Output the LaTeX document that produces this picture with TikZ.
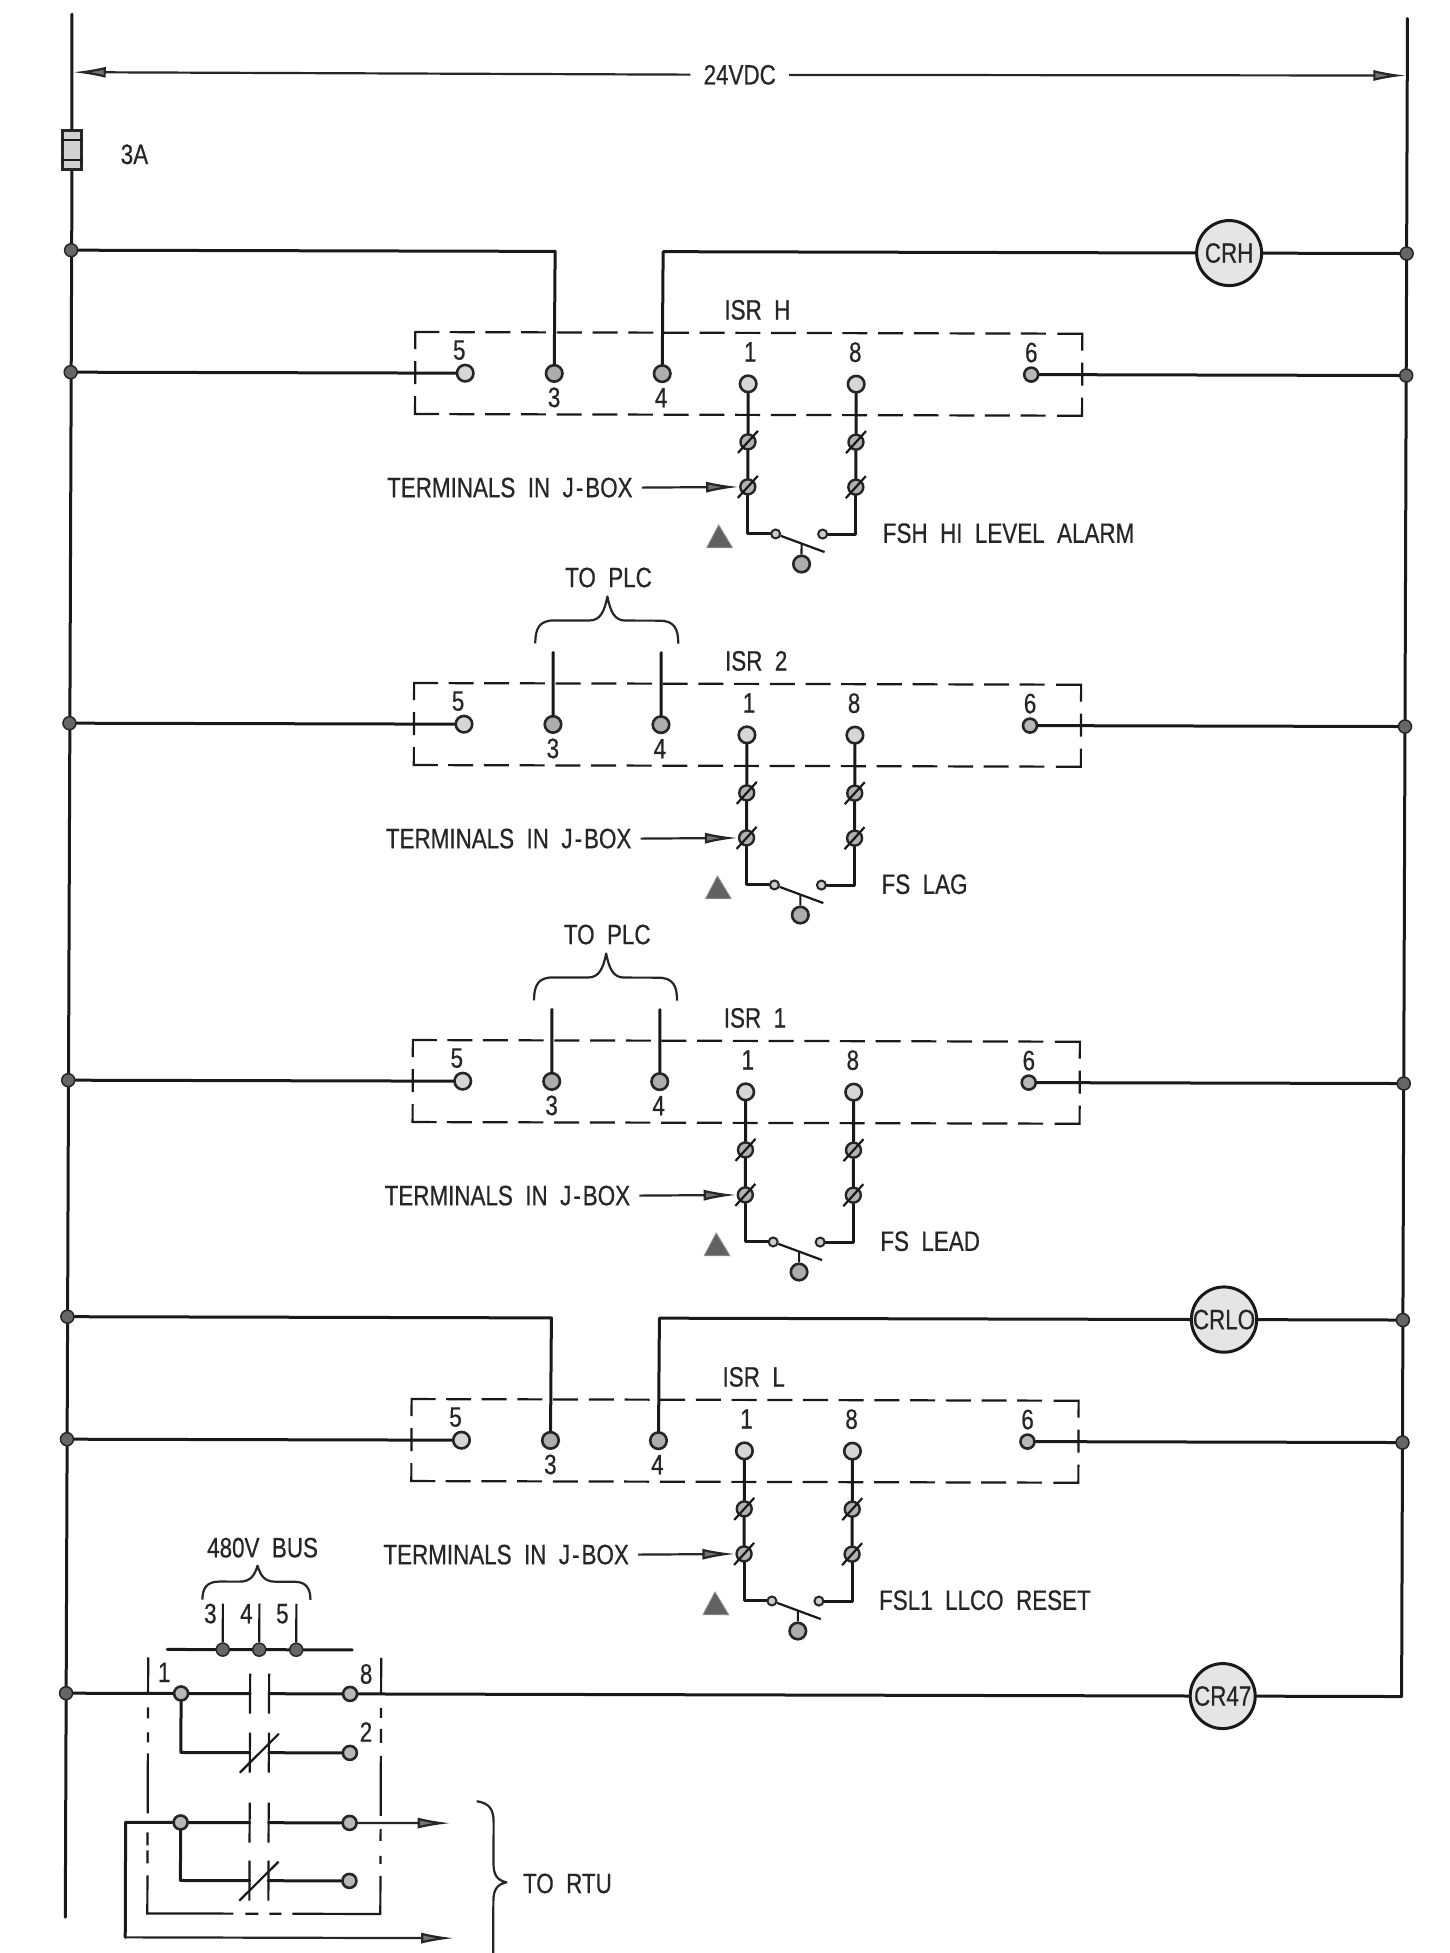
\documentclass[tikz,border=0pt]{standalone}
\usepackage{fontspec}
\setmainfont[FakeStretch=0.8,FakeBold=0.5]{Liberation Sans}
\usetikzlibrary{arrows.meta}
\tikzset{
  wire/.style={draw=black!90,line width=3pt,line cap=round,line join=round},
  thinw/.style={draw=black!90,line width=2.2pt,line cap=butt},
  dashbox/.style={draw=black!90,line width=2.2pt,dash pattern=on 25pt off 10.7pt},
  term/.style={circle,draw=black!85,fill=black!32,line width=2.6pt,inner sep=0pt,minimum size=16.5pt},
  termlight/.style={term,fill=black!16},
  smallterm/.style={circle,draw=black!85,fill=black!20,line width=2pt,inner sep=0pt,minimum size=9pt},
  midterm/.style={circle,draw=black!85,fill=black!28,line width=2.6pt,inner sep=0pt,minimum size=14pt},
  junc/.style={circle,draw=black!85,fill=black!60,line width=1.5pt,inner sep=0pt,minimum size=13pt},
  screw/.style={circle,draw=black!85,fill=black!30,line width=2.4pt,inner sep=0pt,minimum size=15pt},
  coil/.style={circle,draw=black!90,fill=black!10,line width=3pt,inner sep=0pt,minimum size=65pt},
  lab/.style={inner sep=0pt,text=black!85,font=\fontsize{28}{30}\selectfont},
  arroww/.style={draw=black!85,line width=2.2pt,-{Latex[length=33pt,width=11pt,fill=black!55]}},
  fusebox/.style={rectangle,draw=black!85,fill=black!18,line width=2.6pt,inner sep=0pt,minimum width=19pt,minimum height=39pt},
  marker/.style={draw=black!40,fill=black!62,line width=0.8pt,line join=round},
  curly/.style={draw=black!85,line width=2.2pt,line join=round}
}
% block: prefix, u, v, relay label, device text
\newcommand{\isrblock}[5]{%
\begin{scope}[shift={(#2,#3)}]
  \draw[dashbox] (34.4,0) -- (632,0);
  \draw[dashbox] (34.4,82) -- (632,82);
  \draw[thinw] (0,17) -- (0,0) -- (24,0);
  \draw[thinw] (0,64) -- (0,82) -- (24,82);
  \draw[thinw] (642,0) -- (667,0) -- (667,17);
  \draw[thinw] (642,82) -- (667,82) -- (667,64);
  \draw[thinw] (0,29) -- (0,52);
  \draw[thinw] (667,29) -- (667,52);
  \node[termlight] (#1t5) at (50,41) {};
  \node[term] (#1t3) at (139,41) {};
  \node[term] (#1t4) at (247,41) {};
  \node[termlight] (#1t1) at (333,51) {};
  \node[termlight] (#1t8) at (441,51) {};
  \node[midterm] (#1t6) at (616,41) {};
  \node[lab] (#1n5) at (44,18) {5};
  \node[lab] (#1n3) at (139,65) {3};
  \node[lab] (#1n4) at (246,65) {4};
  \node[lab] (#1n1) at (335,19) {1};
  \node[lab] (#1n8) at (440,19) {8};
  \node[lab] (#1n6) at (616,19) {6};
  \node[lab] (#1isr) at (342,-23) {#4};
  \node[screw] (#1s1) at (333,109) {};
  \node[screw] (#1s2) at (333,154) {};
  \node[screw] (#1s3) at (441,109) {};
  \node[screw] (#1s4) at (441,154) {};
  \foreach \s in {s1,s2,s3,s4}{
    \draw[thinw] ([shift={(-10pt,-11pt)}]#1\s.center) -- ([shift={(10pt,11pt)}]#1\s.center);
  }
  \node[smallterm] (#1c1) at (361,201) {};
  \node[smallterm] (#1c2) at (408,201) {};
  \node[term] (#1c3) at (387,231) {};
  \coordinate (#1lv) at (410,219);
  \coordinate (#1ls) at (387,211);
  \draw[wire] (#1t1) -- (#1s1);
  \draw[wire] (#1s1) -- (#1s2);
  \draw[wire] (#1s2) |- (#1c1);
  \draw[wire] (#1t8) -- (#1s3);
  \draw[wire] (#1s3) -- (#1s4);
  \draw[wire] (#1s4) |- (#1c2);
  \draw[thinw] (#1c1) -- (#1lv);
  \draw[thinw] (#1ls) -- (#1c3);
  \node[lab,anchor=east] (#1tj) at (218,155) {TERMINALS\ \ IN\ \ J\kern2pt-\kern2pt BOX};
  \draw[arroww] (#1tj.east) ++(9,0) coordinate (#1ta) -- (#1s2);
  \fill[marker] (304,192) -- (318,215) -- (292,215) -- cycle;
  \node[lab,anchor=west] (#1dev) at (468,200) {#5};
  \draw[wire] (#1L) -- (#1t5);
  \draw[wire] (#1t6) -- (#1R);
\end{scope}}
\newcommand{\plates}[3]{%
  \coordinate (#1a) at (256,#2);
  \coordinate (#1b) at (275,#2);
  \draw[thinw] (256,#2-20) -- (256,#2+20);
  \draw[thinw] (275,#2-20) -- (275,#2+20);
  #3}
\begin{document}
\begin{tikzpicture}
\path[use as bounding box,fill=white] (0,0) rectangle (1450pt,-1953pt);
\begin{scope}[x={(1pt,-0.0025pt)},y={(-0.0035pt,-1pt)}]
% buses
\node[fusebox] (fuse) at (72.5,150) {};
\draw[thinw] ([yshift=-11pt]fuse.north west) -- ([yshift=-11pt]fuse.north east);
\draw[thinw] ([yshift=11pt]fuse.south west) -- ([yshift=11pt]fuse.south east);
\node[lab] (fusel) at (135,154) {3A};
\coordinate (ltop) at (72,14);
\coordinate (lbot) at (72,1917);
\coordinate (rtop) at (1407.5,15);
\coordinate (rbot) at (1407.5,1693);
\draw[wire] (ltop) -- (fuse.north);
\draw[wire] (fuse.south) -- (lbot);
\draw[wire] (rtop) -- (rbot);
% dimension
\node[lab,inner xsep=13pt] (dim) at (740,73) {24VDC};
\coordinate (dl) at (73,72);
\coordinate (dr) at (1406.5,72);
\draw[arroww] (dim) -- (dl);
\draw[arroww] (dim) -- (dr);
% junctions
\node[junc] (a1) at (72,250) {};
\node[junc] (b1) at (1407.5,250) {};
\node[junc] (hL) at (72,372) {};
\node[junc] (hR) at (1407.5,372) {};
\node[junc] (tL) at (72,723) {};
\node[junc] (tR) at (1407.5,723) {};
\node[junc] (oL) at (72,1080) {};
\node[junc] (oR) at (1407.5,1080) {};
\node[junc] (a4) at (72,1316.5) {};
\node[junc] (b4) at (1407.5,1316.5) {};
\node[junc] (lL) at (72,1439) {};
\node[junc] (lR) at (1407.5,1439) {};
\node[junc] (a5) at (72,1693) {};
% coils
\node[coil,lab] (crh) at (1230,250) {CRH};
\node[coil,lab] (crlo) at (1228.6,1316.5) {CRLO};
\node[coil,lab] (crf) at (1228.6,1693) {CR47};
% relay blocks
\isrblock{h}{416.5}{331}{ISR\ \ H}{FSH\ \ HI\ \ LEVEL\ \ ALARM}
\isrblock{t}{416.5}{682}{ISR\ \ 2}{FS\ \ LAG}
\isrblock{o}{416.5}{1039}{ISR\ \ 1}{FS\ \ LEAD}
\isrblock{l}{416.5}{1398}{ISR\ \ L}{FSL1\ \ LLCO\ \ RESET}
% upper feeds
\draw[wire] (a1) -- (556,250) coordinate (h3up) -- (ht3);
\draw[wire] (ht4) -- (664,250) coordinate (h4up) -- (crh);
\draw[wire] (crh) -- (b1);
\draw[wire] (a4) -- (556,1316.5) -- (lt3);
\draw[wire] (lt4) -- (664,1316.5) -- (crlo);
\draw[wire] (crlo) -- (b4);
% to PLC
\foreach \pre/\vv in {t/682,o/1039}{
  \begin{scope}[shift={(416.5,\vv)}]
    \coordinate (\pre up3) at (139,-31);
    \coordinate (\pre up4) at (247,-31);
    \draw[wire] (\pre t3) -- (\pre up3);
    \draw[wire] (\pre t4) -- (\pre up4);
    \node[lab] (\pre plc) at (194,-106) {TO\ \ PLC};
    \draw[curly] (121,-40) .. controls (121,-55) and (125,-63) .. (140,-63) -- (175,-63) .. controls (186,-63) and (190,-72) .. (193,-87) .. controls (196,-72) and (200,-63) .. (211,-63) -- (245,-63) .. controls (260,-63) and (264,-55) .. (264,-40);
  \end{scope}
}
% 480V section
\node[lab] (bus) at (268,1547) {480V\ \ BUS};
\draw[curly] (208,1599) .. controls (208,1588) and (212,1581) .. (225,1581) -- (245,1581) .. controls (256,1581) and (260,1575) .. (263,1565) .. controls (266,1575) and (270,1581) .. (281,1581) -- (300,1581) .. controls (312,1581) and (316,1588) .. (316,1599);
\coordinate (barl) at (173,1649);
\coordinate (barr) at (358,1649);
\draw[wire] (barl) -- (barr);
\node[junc] (p3) at (228.5,1649) {};
\node[junc] (p4) at (265,1649) {};
\node[junc] (p5) at (302,1649) {};
\coordinate (q3) at (228.5,1603);
\coordinate (q4) at (265,1603);
\coordinate (q5) at (302,1603);
\draw[thinw] (p3) -- (q3);
\draw[thinw] (p4) -- (q4);
\draw[thinw] (p5) -- (q5);
\node[lab] (n3) at (216,1613) {3};
\node[lab] (n4) at (252,1613) {4};
\node[lab] (n5) at (288,1613) {5};
\node[lab] (n1) at (170,1672) {1};
\node[lab] (n8) at (372,1673) {8};
\node[lab] (n2) at (372,1731) {2};
% enclosure
\draw[thinw] (154,1657) -- (154,1693);
\draw[thinw] (387,1657) -- (387,1693);
\foreach \a/\b in {1707/1718,1732/1742,1753/1813,1832/1845,1850/1863}{\draw[thinw] (154,\a) -- (154,\b);}
\foreach \a/\b in {1707/1717,1728/1742,1755/1815,1828/1840,1855/1863}{\draw[thinw] (387,\a) -- (387,\b);}
\draw[thinw] (154,1875) -- (154,1913) -- (240,1913);
\draw[thinw] (252,1913) -- (265,1913);
\draw[thinw] (276,1913) -- (288,1913);
\draw[thinw] (299,1913) -- (387,1913) -- (387,1875);
% contacts
\node[midterm] (r1a) at (187,1693) {};
\node[midterm] (r1b) at (356,1693) {};
\node[midterm] (r2b) at (356,1752) {};
\node[midterm] (r3a) at (187,1822) {};
\node[midterm] (r3b) at (356,1822) {};
\node[midterm] (r4b) at (356,1880) {};
\coordinate (r2a) at (187,1752);
\coordinate (r4a) at (187,1880);
\plates{k1}{1693}{}
\plates{k2}{1752}{\draw[thinw] (246,1772) -- (285,1733);}
\plates{k3}{1822}{}
\plates{k4}{1880}{\draw[thinw] (246,1900) -- (285,1861);}
\draw[wire] (a5) -- (r1a);
\draw[wire] (r1a) -- (k1a);
\draw[wire] (k1b) -- (r1b);
\draw[wire] (r1b) -- (crf);
\draw[wire] (crf) -- (rbot);
\draw[wire] (r1a) -- (r2a) -- (k2a);
\draw[wire] (k2b) -- (r2b);
\coordinate (w3) at (132,1822);
\coordinate (w4) at (132,1937);
\coordinate (tip3) at (457,1822);
\coordinate (tip4) at (461,1937);
\draw[wire] (w3) -- (r3a);
\draw[wire] (r3a) -- (k3a);
\draw[wire] (k3b) -- (r3b);
\draw[arroww] (r3b) -- (tip3);
\draw[wire] (r3a) -- (r4a) -- (k4a);
\draw[wire] (k4b) -- (r4b);
\draw[wire] (w3) -- (w4);
\draw[arroww] (w4) -- (tip4);
\draw[curly] (483,1800) .. controls (496,1802) and (500,1808) .. (500,1822) -- (500,1862) .. controls (500,1874) and (504,1879) .. (513,1881) .. controls (504,1883) and (500,1888) .. (500,1900) -- (500,1953);
\node[lab] (rtu) at (574,1882) {TO\ \ RTU};
\end{scope}
\end{tikzpicture}
\end{document}
